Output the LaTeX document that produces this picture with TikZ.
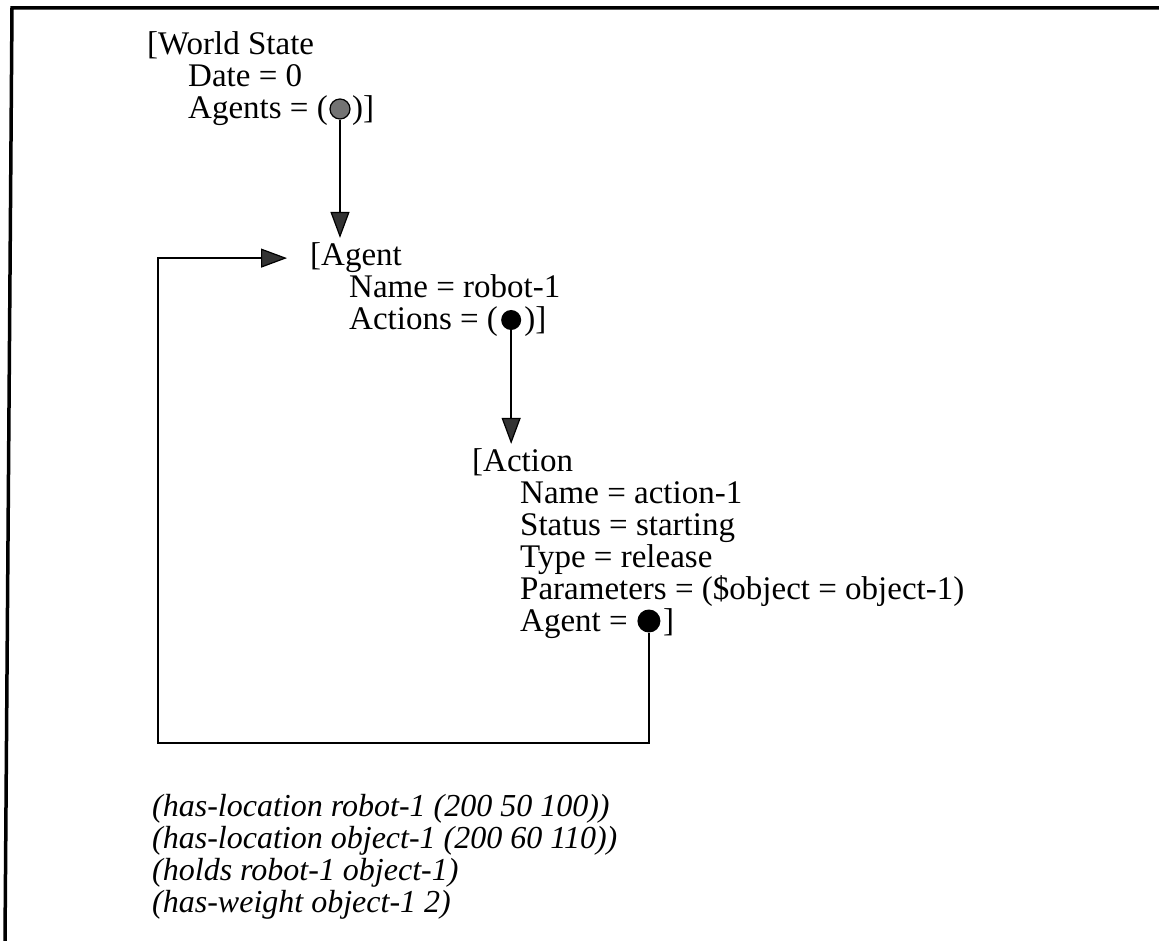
\documentclass[tikz,border=0pt]{standalone}
\usepackage{fontspec}
\setmainfont{Liberation Serif}
\usetikzlibrary{arrows.meta,calc}
\begin{document}
\begin{tikzpicture}[x=1pt,y=-1pt,
  txt/.style={anchor=base west,inner sep=0pt,font=\fontsize{33}{32}\selectfont},
  fact/.style={anchor=base west,inner sep=0pt,font=\fontsize{32}{32}\selectfont\itshape},
  dotgray/.style={circle,inner sep=0pt,minimum size=20pt,draw=black,line width=1.2pt,fill=black!55},
  dotblack/.style={circle,inner sep=0pt,minimum size=20pt,fill=black},
  conn/.style={line width=2.6pt,line join=miter,
    -{Triangle[length=26pt,width=19pt,line width=1.2pt,fill=black!80]}},
  frameline/.style={line width=3.5pt}]
\useasboundingbox (0,0) rectangle (1159,941);
\fill[white] (0,0) rectangle (1159,941);

% page frame (top and left edges)
\draw[frameline] (1159,8) -- (12,8) -- (5,941);

% World State frame
\node[txt] (ws) at (147,55) {[World State};
\node[txt] (wsdate) at (188,87) {Date = 0};
\node[txt] (wsag) at (188,119) {Agents = (};
\node[dotgray] (wsdot) at ($(wsag.base east)+(12,-10)$) {};
\node[txt] (wsclose) at ($(wsag.base east)+(24,0)$) {)]};

% Agent frame
\node[txt] (agenthdr) at (310,266) {[Agent};
\node[txt] (agname) at (349,298) {Name = robot-1};
\node[txt] (agact) at (349,330) {Actions = (};
\node[dotblack] (actdot) at ($(agact.base east)+(13,-10)$) {};
\node[txt] (agclose) at ($(agact.base east)+(26,0)$) {)]};

% Action frame
\node[txt] (acthdr) at (472,471) {[Action};
\node[txt] (acname) at (520,503) {Name = action-1};
\node[txt] (acstatus) at (520,535) {Status = starting};
\node[txt] (actype) at (520,567) {Type = release};
\node[txt] (acparam) at (520,599) {Parameters = (\$object = object-1)};
\node[txt] (acagent) at (520,631) {Agent =};
\node[dotblack,minimum size=23pt] (agdot) at ($(acagent.base east)+(21,-10)$) {};
\node[txt] (acclose) at ($(acagent.base east)+(35,0)$) {]};

% facts
\node[fact] (f1) at (152,816) {(has-location robot-1 (200 50 100))};
\node[fact] (f2) at (152,848) {(has-location object-1 (200 60 110))};
\node[fact] (f3) at (152,880) {(holds robot-1 object-1)};
\node[fact] (f4) at (152,912) {(has-weight object-1 2)};

% pointers
\coordinate (loopbl) at (158,743);
\draw[conn,shorten >=5pt] (wsdot.south) -- (wsdot.south |- agenthdr.north);
\draw[conn,shorten >=4pt] (actdot.south) -- (actdot.south |- acthdr.north);
\draw[conn,shorten >=23pt] (agdot.south) |- (loopbl) |- (agenthdr.west);
\end{tikzpicture}
\end{document}
